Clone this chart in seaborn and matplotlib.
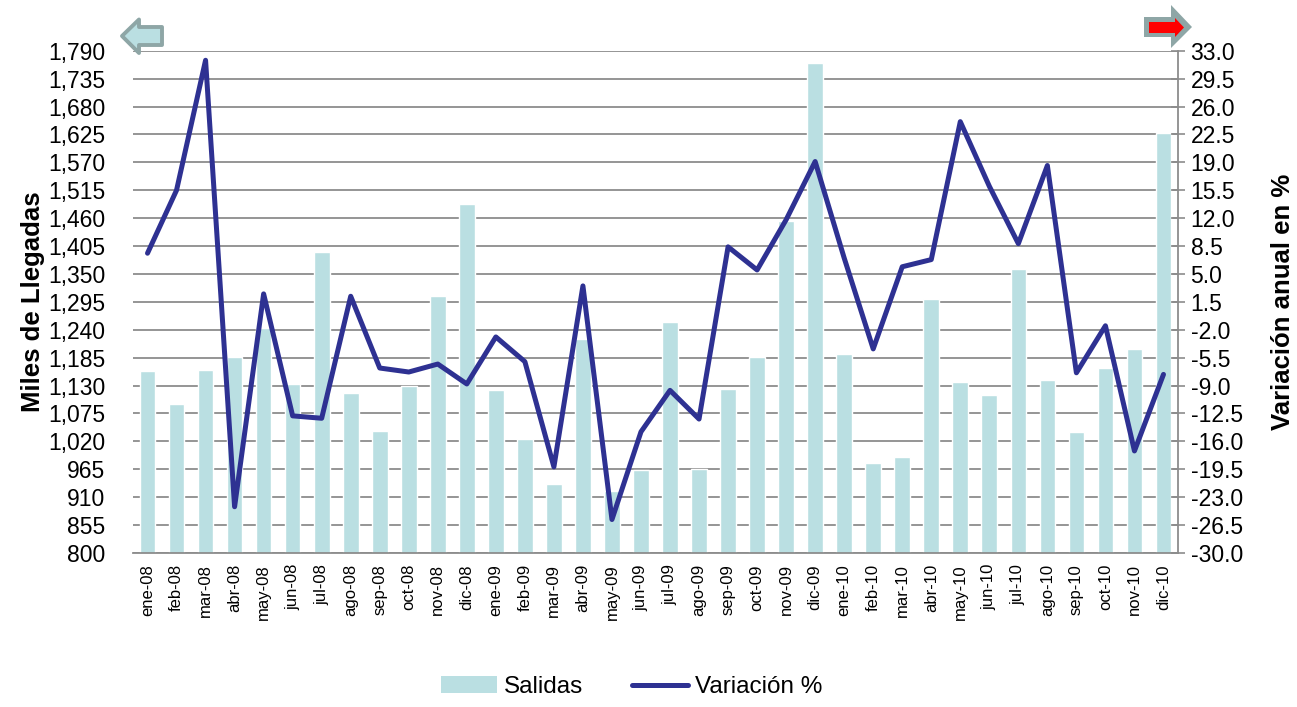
import numpy as np
import pandas as pd
import matplotlib
matplotlib.use("Agg")
import matplotlib.pyplot as plt
import seaborn as sns
from matplotlib.patches import Patch, Polygon
from matplotlib.lines import Line2D
from matplotlib.ticker import FuncFormatter, FixedLocator

# ---------------------------------------------------------------------------
# Data
# ---------------------------------------------------------------------------
months = [
    "ene-08", "feb-08", "mar-08", "abr-08", "may-08", "jun-08",
    "jul-08", "ago-08", "sep-08", "oct-08", "nov-08", "dic-08",
    "ene-09", "feb-09", "mar-09", "abr-09", "may-09", "jun-09",
    "jul-09", "ago-09", "sep-09", "oct-09", "nov-09", "dic-09",
    "ene-10", "feb-10", "mar-10", "abr-10", "may-10", "jun-10",
    "jul-10", "ago-10", "sep-10", "oct-10", "nov-10", "dic-10",
]
salidas = [
    1158, 1094, 1161, 1187, 1244, 1134, 1393, 1115, 1040, 1129, 1306, 1488,
    1121, 1025, 936, 1222, 922, 964, 1255, 965, 1123, 1187, 1454, 1765,
    1192, 977, 989, 1300, 1138, 1111, 1360, 1140, 1038, 1165, 1202, 1627,
]
variacion = [
    7.6, 15.5, 31.8, -24.2, 2.5, -12.8, -13.1, 2.2, -6.8, -7.3, -6.3, -8.8,
    -2.9, -6.0, -19.2, 3.5, -25.8, -14.8, -9.6, -13.2, 8.4, 5.5, 11.8, 19.1,
    7.0, -4.4, 5.9, 6.8, 24.1, 16.0, 8.8, 18.6, -7.4, -1.5, -17.2, -7.6,
]
left_ticks = np.arange(800, 1791, 55)
right_ticks = np.arange(-30, 33.1, 3.5)

df = pd.DataFrame({"mes": months, "salidas": salidas, "variacion": variacion})
df["pos"] = np.arange(len(df))

BAR_COLOR = "#BADFE2"
LINE_COLOR = "#2E3192"
GRID_COLOR = "#8C8C8C"

sns.set_style("white")
plt.rcParams["font.family"] = ["Liberation Sans", "DejaVu Sans"]
plt.rcParams["text.color"] = "black"
plt.rcParams["axes.labelcolor"] = "black"
plt.rcParams["xtick.color"] = "black"
plt.rcParams["ytick.color"] = "black"

W, H = 1297, 707
fig = plt.figure(figsize=(W / 100, H / 100), dpi=100)
ax = fig.add_axes([133 / W, 1 - 553 / H, (1178 - 133) / W, (553 - 50.7) / H])

# bars (left axis)
sns.barplot(data=df, x="mes", y="salidas", color=BAR_COLOR, width=0.54,
            saturation=1, ax=ax, zorder=2)
ax.set_xlim(-0.5, len(df) - 0.5)
ax.set_ylim(800, 1790)
ax.yaxis.set_major_locator(FixedLocator(left_ticks))
ax.yaxis.set_major_formatter(FuncFormatter(lambda v, p: f"{v:,.0f}"))
ax.grid(axis="y", color=GRID_COLOR, lw=1.3)
ax.set_axisbelow(True)
for s in ["left", "top", "right"]:
    ax.spines[s].set_visible(False)
ax.spines["bottom"].set_color(GRID_COLOR)
ax.spines["bottom"].set_linewidth(1.3)
ax.tick_params(axis="y", length=0, labelsize=16.5, pad=20)
ax.tick_params(axis="x", length=0, labelsize=12, rotation=90, pad=8)
ax.set_xlabel("")
ax.set_ylabel("Miles de Llegadas", fontsize=18.5, fontweight="bold", labelpad=2)

# line (right axis)
ax2 = ax.twinx()
sns.lineplot(data=df, x="pos", y="variacion", color=LINE_COLOR, lw=3.6, ax=ax2,
             zorder=3)
ax2.set_xlim(-0.5, len(df) - 0.5)
ax2.set_ylim(-30, 33)
ax2.yaxis.set_major_locator(FixedLocator(right_ticks))
ax2.yaxis.set_major_formatter(FuncFormatter(lambda v, p: f"{v:.1f}"))
for s in ["left", "top", "bottom"]:
    ax2.spines[s].set_visible(False)
ax2.spines["right"].set_color(GRID_COLOR)
ax2.spines["right"].set_linewidth(1.3)
ax2.tick_params(axis="y", direction="inout", length=10, width=1.2,
                color=GRID_COLOR, labelcolor="black", labelsize=16.5, pad=4)
ax2.set_xlabel("")
ax2.set_ylabel("Variación anual en %", fontsize=18.5, fontweight="bold",
               labelpad=20)

# legend
handles = [Patch(facecolor=BAR_COLOR, edgecolor="none"),
           Line2D([0], [0], color=LINE_COLOR, lw=3.6)]
fig.legend(handles, ["Salidas", "Variación %"], loc="center",
           bbox_to_anchor=(0.487, 1 - 687 / H), ncol=2, frameon=False,
           fontsize=17.5, handlelength=2.3, handletextpad=0.3, columnspacing=2.0)

# decorative arrows (pixel coords -> figure fraction)
def px(points):
    return [(x / W, 1 - y / H) for x, y in points]

left_arrow = [(122, 36), (139, 19.5), (139, 27), (162, 27), (162, 45),
              (139, 45), (139, 53)]
fig.patches.append(Polygon(px(left_arrow), closed=True, facecolor=BAR_COLOR,
                           edgecolor="#8EA6A6", lw=2.8, joinstyle="round",
                           transform=fig.transFigure, figure=fig))
right_outer = [(1144, 17), (1171, 17), (1171, 5), (1192, 27), (1171, 48),
               (1171, 37), (1144, 37)]
right_inner = [(1149, 22), (1175, 22), (1175, 18), (1184, 27.5), (1175, 37),
               (1175, 33), (1149, 33)]
fig.patches.append(Polygon(px(right_outer), closed=True, facecolor="#8EA6A6",
                           edgecolor="none", transform=fig.transFigure, figure=fig))
fig.patches.append(Polygon(px(right_inner), closed=True, facecolor="#FF0000",
                           edgecolor="none", transform=fig.transFigure, figure=fig))

fig.savefig("out.png", dpi=100)
